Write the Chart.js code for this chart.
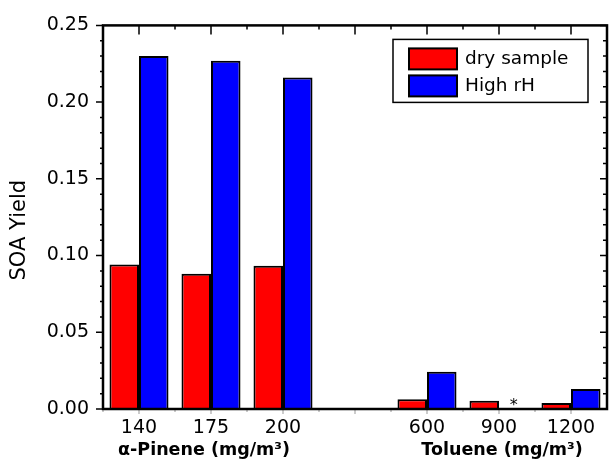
<!DOCTYPE html>
<html>
<head>
<meta charset="utf-8">
<script src="https://cdn.jsdelivr.net/npm/chart.js@4/dist/chart.umd.min.js"></script>
<style>
    html, body { margin: 0; padding: 0; background: #fff; }
</style>
</head>
<body>
<canvas id="soaChart" width="609" height="462"></canvas>
<script>
// values
const concentrations = ["140", "175", "200", "", "600", "900", "1200"];
const drySample = [0.0942, 0.0881, 0.0933, null, 0.0063, 0.0054, 0.0039];
const highRH = [0.230, 0.227, 0.216, null, 0.0243, null, 0.0130];
const highRHNotes = ["", "", "", "", "", "*", ""];
const groupTitles = ["α-Pinene (mg/m³)", "Toluene (mg/m³)"];
const groupRanges = [[0, 2], [4, 6]];

const FONT = "'DejaVu Sans', 'Liberation Sans', Arial, sans-serif";

//frame, tick marks, axis titles and the asterisk note
const framePlugin = {
    id: "frame",
    afterDatasetsDraw(chart) {
        const { ctx, chartArea: a, scales: { x, y } } = chart;
        ctx.save();
        ctx.strokeStyle = "#000";

        // y ticks, every 0.01
        ctx.lineWidth = 1.5;
        for (let k = 0; k <= 25; k++) {
            const py = y.getPixelForValue(k / 100);
            const major = k % 5 === 0;
            ctx.beginPath();
            ctx.moveTo(a.left - (major ? 7 : 3), py);
            ctx.lineTo(a.left, py);
            ctx.moveTo(a.right, py);
            ctx.lineTo(a.right - (major ? 7 : 4), py);
            ctx.stroke();
        }

        // x ticks at centres and boundaries
        for (let i = 0; i < concentrations.length; i++) {
            const c = x.getPixelForValue(i);
            const b = x.getPixelForValue(i - 0.5);
            ctx.strokeStyle = "#000";
            ctx.lineWidth = 1.5;
            ctx.beginPath();
            ctx.moveTo(c, a.top); ctx.lineTo(c, a.top + 9);
            ctx.moveTo(b, a.top); ctx.lineTo(b, a.top + 4);
            ctx.stroke();
            ctx.strokeStyle = "#999";
            ctx.lineWidth = 1;
            ctx.beginPath();
            ctx.moveTo(c, a.bottom); ctx.lineTo(c, a.bottom + 5);
            ctx.moveTo(b, a.bottom); ctx.lineTo(b, a.bottom + 3);
            ctx.stroke();
        }

        // frame
        ctx.strokeStyle = "#000";
        ctx.lineWidth = 2.5;
        ctx.strokeRect(a.left, a.top, a.right - a.left, a.bottom - a.top);

        // note for missing value
        ctx.fillStyle = "#000";
        ctx.font = "16px " + FONT;
        ctx.textAlign = "center";
        ctx.textBaseline = "alphabetic";
        highRHNotes.forEach((n, i) => {
            if (!n) return;
            const red = chart.getDatasetMeta(0).data[i];
            const px = red.x + red.width;
            ctx.fillText(n, px, y.getPixelForValue(0) + 1);
        });

        // group titles under the x axis
        ctx.font = "bold 17.5px " + FONT;
        ctx.textBaseline = "alphabetic";
        groupTitles.forEach((t, g) => {
            const [s, e] = groupRanges[g];
            const mid = (x.getPixelForValue(s) + x.getPixelForValue(e)) / 2;
            ctx.fillText(t, mid + (g === 0 ? -7 : 3), 455);
        });

        // y title
        ctx.font = "21px " + FONT;
        ctx.translate(20, (a.top + a.bottom) / 2 + 13);
        ctx.rotate(-Math.PI / 2);
        ctx.textBaseline = "middle";
        ctx.fillText("SOA Yield", 0, 0);
        ctx.restore();
    }
};

//boxed legend inside the plot
const legendPlugin = {
    id: "boxLegend",
    afterDraw(chart) {
        const { ctx, chartArea: a } = chart;
        const left = a.right - 214, top = a.top + 14, w = 195, h = 63;
        ctx.save();
        ctx.fillStyle = "#fff";
        ctx.fillRect(left, top, w, h);
        ctx.strokeStyle = "#000";
        ctx.lineWidth = 1.5;
        ctx.strokeRect(left, top, w, h);
        ctx.font = "18.5px " + FONT;
        ctx.textBaseline = "middle";
        ctx.textAlign = "left";
        chart.data.datasets.forEach((ds, i) => {
            const sy = top + 9 + i * 27;
            ctx.fillStyle = ds.backgroundColor;
            ctx.fillRect(left + 16, sy, 48, 21);
            ctx.lineWidth = 2;
            ctx.strokeRect(left + 16, sy, 48, 21);
            ctx.fillStyle = "#000";
            ctx.fillText(ds.label, left + 72, sy + 11);
        });
        ctx.restore();
    }
};

new Chart(document.getElementById("soaChart"), {
    type: "bar",
    data: {
        labels: concentrations,
        datasets: [
            { label: "dry sample", data: drySample, backgroundColor: "#ff0000", borderColor: "#000", borderWidth: 2 },
            { label: "High rH", data: highRH, backgroundColor: "#0000ff", borderColor: "#000", borderWidth: 2 }
        ]
    },
    options: {
        responsive: false,
        animation: false,
        layout: { padding: { top: 25, right: 2, left: 0, bottom: 0 } },
        datasets: { bar: { categoryPercentage: 0.82, barPercentage: 1.0 } },
        plugins: { legend: { display: false }, tooltip: { enabled: false } },
        scales: {
            x: {
                grid: { display: false, drawTicks: false },
                border: { display: false },
                ticks: { color: "#000", font: { family: FONT, size: 19 }, padding: 8, maxRotation: 0, autoSkip: false },
                afterFit: s => { s.height = 53; }
            },
            y: {
                min: 0,
                max: 0.25,
                grid: { display: false, drawTicks: false },
                border: { display: false },
                ticks: {
                    stepSize: 0.05,
                    color: "#000",
                    font: { family: FONT, size: 19 },
                    padding: 14,
                    callback: v => v.toFixed(2)
                },
                afterFit: s => { s.width = 103; }
            }
        }
    },
    plugins: [framePlugin, legendPlugin]
});
</script>
</body>
</html>
